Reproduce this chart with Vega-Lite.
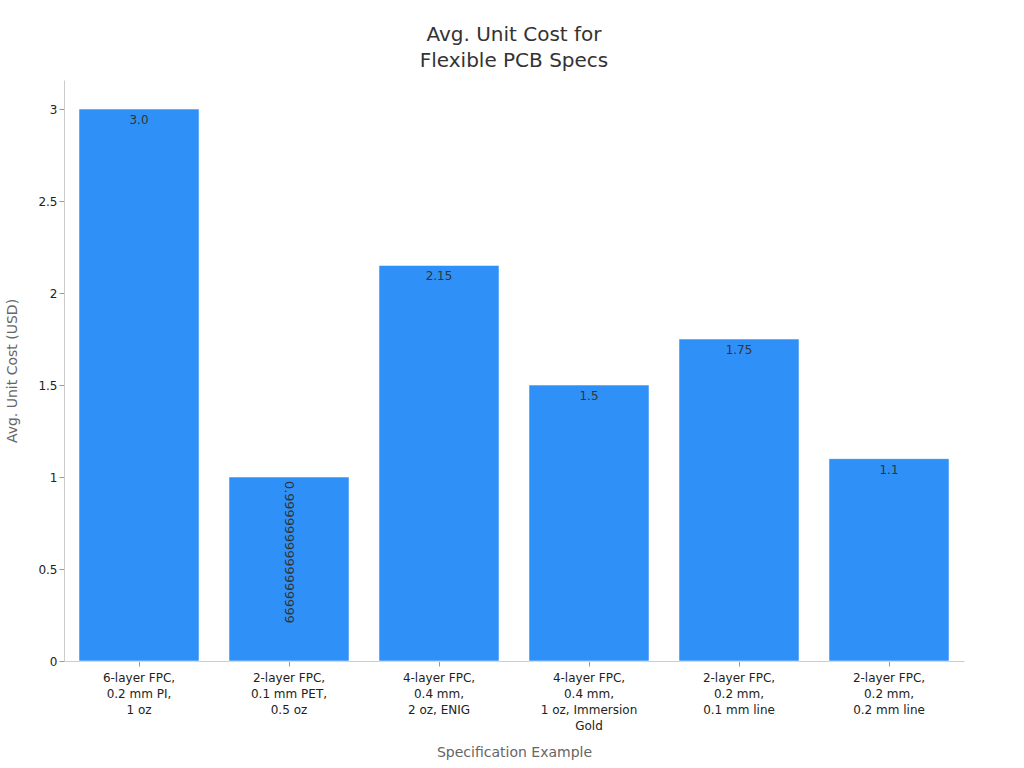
{
  "$schema": "https://vega.github.io/schema/vega-lite/v6.json",
  "autosize": "none",
  "width": 900,
  "height": 581,
  "padding": {"left": 64, "top": 80, "right": 60, "bottom": 107},
  "background": "white",
  "title": {
    "text": ["Avg. Unit Cost for", "Flexible PCB Specs"],
    "anchor": "middle",
    "fontSize": 20,
    "fontWeight": "normal",
    "font": "DejaVu Sans",
    "color": "#333333",
    "lineHeight": 26,
    "offset": 9
  },
  "data": {
    "values": [
      {"spec": "6-layer FPC,|0.2 mm PI,|1 oz", "cost": 3.0, "label": "3.0"},
      {"spec": "2-layer FPC,|0.1 mm PET,|0.5 oz", "cost": 0.9999999999999999, "label": "0.9999999999999999"},
      {"spec": "4-layer FPC,|0.4 mm,|2 oz, ENIG", "cost": 2.15, "label": "2.15"},
      {"spec": "4-layer FPC,|0.4 mm,|1 oz, Immersion|Gold", "cost": 1.5, "label": "1.5"},
      {"spec": "2-layer FPC,|0.2 mm,|0.1 mm line", "cost": 1.75, "label": "1.75"},
      {"spec": "2-layer FPC,|0.2 mm,|0.2 mm line", "cost": 1.1, "label": "1.1"}
    ]
  },
  "encoding": {
    "x": {
      "field": "spec",
      "type": "nominal",
      "sort": null,
      "scale": {"paddingInner": 0.2, "paddingOuter": 0.1},
      "title": "Specification Example",
      "axis": {
        "labelAngle": 0,
        "labelExpr": "split(datum.label, '|')",
        "labelLineHeight": 16,
        "labelPadding": 6,
        "titlePadding": 14
      }
    },
    "y": {
      "field": "cost",
      "type": "quantitative",
      "scale": {"domain": [0, 3.158], "nice": false},
      "title": "Avg. Unit Cost (USD)",
      "axis": {
        "values": [0, 0.5, 1, 1.5, 2, 2.5, 3],
        "format": "~g",
        "titlePadding": 18
      }
    }
  },
  "layer": [
    {
      "mark": {"type": "bar", "color": "#2F91F7", "stroke": "#ffffff", "strokeOpacity": 0.5, "strokeWidth": 1}
    },
    {
      "transform": [{"filter": "length(datum.label) <= 5"}],
      "mark": {"type": "text", "baseline": "top", "dy": 6, "fontSize": 12, "color": "#333333", "font": "DejaVu Sans"},
      "encoding": {"text": {"field": "label"}}
    },
    {
      "transform": [{"filter": "length(datum.label) > 5"}],
      "mark": {"type": "text", "angle": 90, "align": "left", "baseline": "middle", "dx": 4, "fontSize": 12.8, "color": "#333333", "font": "DejaVu Sans"},
      "encoding": {"text": {"field": "label"}}
    }
  ],
  "config": {
    "view": {"stroke": null},
    "font": "DejaVu Sans",
    "axis": {
      "grid": false,
      "domainColor": "#cccccc",
      "tickColor": "#999999",
      "tickSize": 5,
      "labelFontSize": 12,
      "labelColor": "#222222",
      "titleFontSize": 14,
      "titleFontWeight": "normal",
      "titleColor": "#666666"
    }
  }
}
